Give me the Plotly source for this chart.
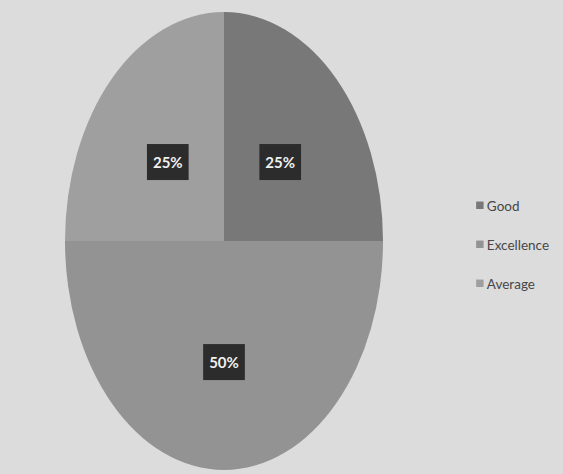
import plotly.graph_objects as go

labels = ["Good", "Excellence", "Average"]
values = [25, 50, 25]
colors = ["#787878", "#939393", "#9f9f9f"]

W, H = 563, 474
FONT = "Lato, Open Sans, sans-serif"
fig = go.Figure(go.Pie(
    labels=labels, values=values, sort=False, direction="clockwise", rotation=0,
    marker=dict(colors=colors, line=dict(width=0)),
    textinfo="percent", textposition="inside", insidetextorientation="horizontal",
    insidetextfont=dict(color="#f0f0f0", size=15, family=FONT),
    texttemplate="<b>%{percent:.0%}</b>",
    domain=dict(x=[65 / W, 383 / W], y=[1 - 400 / H, 1 - 82 / H]),
    hoverinfo="skip",
))
fig.update_layout(
    width=W, height=H, margin=dict(l=0, r=0, t=0, b=0),
    paper_bgcolor="#dcdcdc", plot_bgcolor="#dcdcdc",
    legend=dict(x=476 / W, y=1 - 190 / H, xanchor="left", yanchor="top",
                font=dict(size=13.5, color="#474747", family=FONT),
                bgcolor="rgba(0,0,0,0)", itemwidth=30),
    showlegend=True,
)

post = """
(function(){
  document.documentElement.style.margin = '0';
  document.body.style.margin = '0';
  document.body.style.overflow = 'hidden';
  var gd = document.getElementById('{plot_id}');
  var RX = 159, RY = 229, CX = 224, CY = 241, LEG_DX = 20;
  function fix(){
    if (gd.getAttribute('data-fixed')) return;
    var slices = gd.querySelectorAll('.pielayer g.slice');
    if (!slices.length) { setTimeout(fix, 50); return; }
    gd.setAttribute('data-fixed', '1');
    var cd = gd.calcdata[0][0];
    var cx = cd.cx, cy = cd.cy, r = cd.r;
    var sx = RX / r, sy = RY / r;
    var ptf = 'translate(' + CX + ',' + CY + ') scale(' + sx + ',' + sy + ') translate(' + (-cx) + ',' + (-cy) + ')';
    slices.forEach(function(g){
      var pt = g.__data__;
      var p = g.querySelector('path.surface');
      if (p) p.setAttribute('transform', ptf);
      var t = g.querySelector('g.slicetext text');
      if (!t || !pt || !pt.pxmid) return;
      var f = (pt.v / cd.vTotal) > 0.4 ? 0.52 : 0.5;
      var tx = CX + f * pt.pxmid[0] * sx, ty = CY + f * pt.pxmid[1] * sy + 2;
      t.setAttribute('transform', '');
      var bb = t.getBBox();
      var tr = 'translate(' + (tx - (bb.x + bb.width / 2)) + ',' + (ty - (bb.y + bb.height / 2)) + ')';
      t.setAttribute('transform', tr);
      var rect = document.createElementNS('http://www.w3.org/2000/svg', 'rect');
      var w = bb.width + 12, h = 36;
      rect.setAttribute('x', bb.x + bb.width / 2 - w / 2);
      rect.setAttribute('y', bb.y + bb.height / 2 - h / 2);
      rect.setAttribute('width', w);
      rect.setAttribute('height', h);
      rect.setAttribute('fill', '#2c2c2c');
      rect.setAttribute('transform', tr);
      t.parentNode.insertBefore(rect, t);
    });
    gd.querySelectorAll('.legend [clip-path]').forEach(function(e){ e.removeAttribute('clip-path'); });
    var items = gd.querySelectorAll('.legend g.traces');
    var y0 = null;
    items.forEach(function(g, i){
      var m = /translate\\(([-\\d.]+),\\s*([-\\d.]+)\\)/.exec(g.getAttribute('transform') || '');
      var x = m ? parseFloat(m[1]) : 0;
      if (y0 === null) y0 = m ? parseFloat(m[2]) : 0;
      g.setAttribute('transform', 'translate(' + (x + LEG_DX) + ',' + (y0 + i * 39) + ')');
      var lp = g.querySelector('.legendpoints path');
      if (lp) lp.setAttribute('transform', 'translate(5,0) scale(0.62)');
      var lt = g.querySelector('text.legendtext');
      if (lt) lt.setAttribute('x', '12');
    });
  }
  fix();
})();
"""
fig.write_html("out.html", post_script=post, config={"displayModeBar": False})
